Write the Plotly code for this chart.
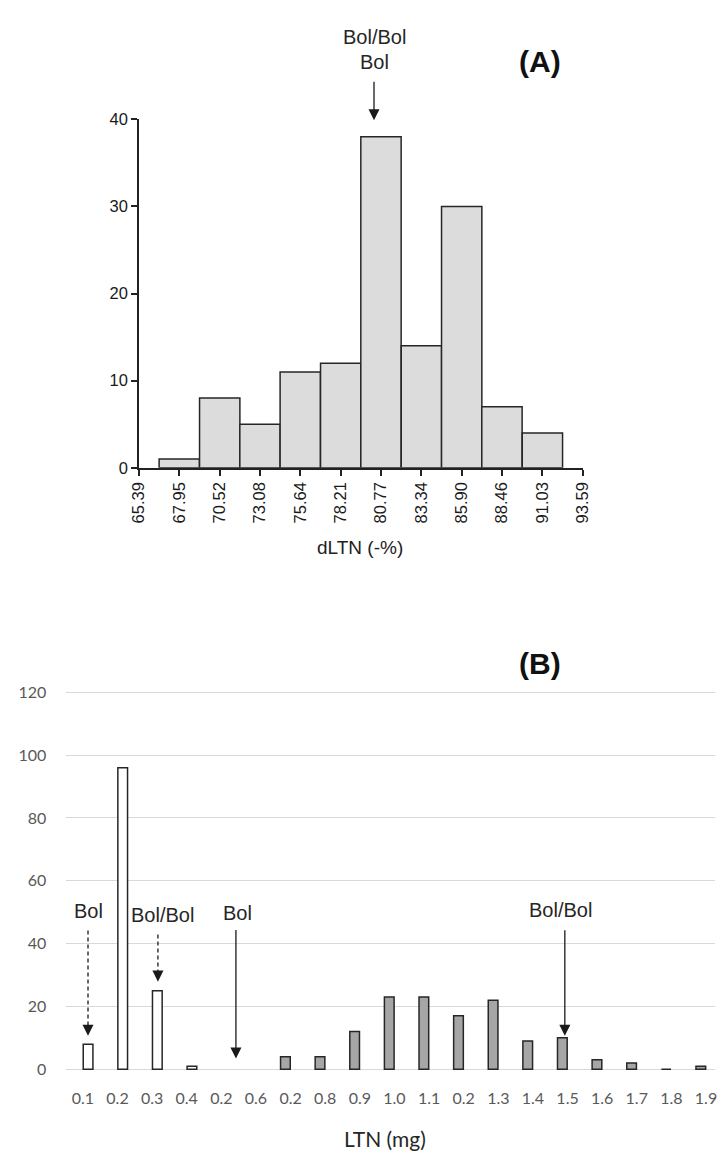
import plotly.graph_objects as go

W, H = 723, 1159

# ---------------- Panel A data ----------------
a_tick_values = [65.39, 67.95, 70.52, 73.08, 75.64, 78.21, 80.77, 83.34, 85.90, 88.46, 91.03, 93.59]
a_tick_labels = ["65.39", "67.95", "70.52", "73.08", "75.64", "78.21", "80.77", "83.34", "85.90", "88.46", "91.03", "93.59"]
a_bin_centers = [67.95, 70.52, 73.08, 75.64, 78.21, 80.77, 83.34, 85.90, 88.46, 91.03]
a_counts = [1, 8, 5, 11, 12, 38, 14, 30, 7, 4]
a_yticks = [0, 10, 20, 30, 40]

# ---------------- Panel B data ----------------
b_labels = ["0.1", "0.2", "0.3", "0.4", "0.2", "0.6", "0.2", "0.8", "0.9", "1.0",
            "1.1", "0.2", "1.3", "1.4", "1.5", "1.6", "1.7", "1.8", "1.9"]
b_white = [8, 96, 25, 1, None, None, None, None, None, None,
           None, None, None, None, None, None, None, None, None]
b_gray = [None, None, None, None, None, None, 4, 4, 12, 23,
          23, 17, 22, 9, 10, 3, 2, 0, 1]
b_yticks = [0, 20, 40, 60, 80, 100, 120]


def px(xp):
    return xp / W


def py(yp):
    return 1 - yp / H


a_bin_width = (a_tick_values[-1] - a_tick_values[0]) / (len(a_tick_values) - 1)
b_pos = list(range(len(b_labels)))

# panel B vertical scale: 0 at 1077 px, 120 at 694 px; pad range so edge gridlines show
b_unit = (1077 - 694) / (b_yticks[-1] - b_yticks[0])
b_pad = 0.6

fig = go.Figure()

# Panel A histogram
fig.add_trace(go.Bar(
    x=a_bin_centers, y=a_counts, width=a_bin_width,
    marker=dict(color="#dcdcdc", line=dict(color="#262626", width=1.5)),
    xaxis="x2", yaxis="y2", hoverinfo="skip",
))

# Panel B bars (two series like a clustered column chart)
fig.add_trace(go.Bar(
    x=b_pos, y=b_gray, width=0.28, offset=-0.29,
    marker=dict(color="#a6a6a6", line=dict(color="#262626", width=1.5)),
    xaxis="x", yaxis="y", hoverinfo="skip",
))
fig.add_trace(go.Bar(
    x=b_pos, y=b_white, width=0.28, offset=0.01,
    marker=dict(color="#ffffff", line=dict(color="#262626", width=1.5)),
    xaxis="x", yaxis="y", hoverinfo="skip",
))

lato_gray = dict(family="Lato, Calibri, sans-serif", size=16, color="#595959")
arial_tick = dict(family="Liberation Sans, Arial, sans-serif", size=16.5, color="#1a1a1a")

fig.update_layout(
    width=W, height=H,
    margin=dict(l=0, r=0, t=0, b=0),
    paper_bgcolor="white", plot_bgcolor="white",
    showlegend=False, barmode="overlay",
    # Panel B axes
    xaxis=dict(
        domain=[px(57), 1.0], range=[-0.5, 18.26], anchor="y",
        tickmode="array", tickvals=b_pos, ticktext=b_labels,
        showgrid=False, showline=False, zeroline=False, ticks="",
        tickfont=lato_gray, ticklabelstandoff=16,
    ),
    yaxis=dict(
        domain=[py(1077 + b_pad * b_unit), py(694 - b_pad * b_unit)],
        range=[b_yticks[0] - b_pad, b_yticks[-1] + b_pad], anchor="x",
        tickmode="array", tickvals=b_yticks,
        showgrid=True, gridcolor="#d9d9d9", gridwidth=1.4,
        showline=False, zeroline=False,
        ticks="outside", ticklen=15, tickcolor="rgba(0,0,0,0)",
        tickfont=lato_gray,
    ),
    # Panel A axes
    xaxis2=dict(
        domain=[px(132.3), px(587.3)], range=[a_tick_values[0], a_tick_values[-1]], anchor="y2",
        tickmode="array", tickvals=a_tick_values, ticktext=a_tick_labels, tickangle=-90,
        ticks="outside", ticklen=6, tickwidth=1.5, tickcolor="#222222",
        showline=True, linecolor="#222222", linewidth=1.5,
        showgrid=False, zeroline=False, tickfont=arial_tick,
    ),
    yaxis2=dict(
        domain=[py(466), py(112)], range=[0, 40], anchor="x2",
        tickmode="array", tickvals=a_yticks,
        ticks="outside", ticklen=6, tickwidth=1.5, tickcolor="#222222",
        showline=True, linecolor="#222222", linewidth=1.5,
        showgrid=False, zeroline=False, tickfont=arial_tick,
    ),
)

txt = dict(family="Liberation Sans, Arial, sans-serif", size=20, color="#262626")
bold = dict(family="Liberation Sans, Arial, sans-serif", size=30, color="#111111")
ann = []


def label(x, y, text, font=txt):
    ann.append(dict(x=px(x), y=py(y), xref="paper", yref="paper", text=text,
                    showarrow=False, font=font, xanchor="center", yanchor="middle"))


def arrow(x, y_tail, y_tip):
    ann.append(dict(x=px(x), y=py(y_tip), xref="paper", yref="paper",
                    ax=0, ay=-(y_tip - y_tail),
                    text="", showarrow=True, arrowhead=2, arrowsize=1.7,
                    arrowwidth=1.3, arrowcolor="#1a1a1a", standoff=0, startstandoff=0))


shapes = []


def dashed_arrow(x, y_tail, y_tip):
    head = 11
    shapes.append(dict(type="line", xref="paper", yref="paper",
                       x0=px(x), x1=px(x), y0=py(y_tail), y1=py(y_tip - head + 2),
                       line=dict(color="#1a1a1a", width=1.3, dash="4px,3px")))
    ann.append(dict(x=px(x), y=py(y_tip), xref="paper", yref="paper",
                    ax=0, ay=-head, text="", showarrow=True, arrowhead=2, arrowsize=1.7,
                    arrowwidth=1.3, arrowcolor="#1a1a1a", standoff=0, startstandoff=0))


# Panel A labels
label(544, 53, "<b>(A)</b>", bold)
label(374, 28, "Bol/Bol")
label(374, 54, "Bol")
arrow(373.3, 73, 113)
label(359, 547, "dLTN (-%)", dict(family="Liberation Sans, Arial, sans-serif", size=19, color="#222222"))

# Panel B labels
label(544, 665, "<b>(B)</b>", bold)
label(80.5, 916, "Bol")
label(156.7, 920, "Bol/Bol")
label(233.3, 918, "Bol")
label(565, 915, "Bol/Bol")
dashed_arrow(80, 936, 1043)
dashed_arrow(151.7, 940, 988)
arrow(231.7, 936, 1066)
arrow(569, 936, 1043)
label(385, 1147, "LTN (mg)", dict(family="Lato, Calibri, sans-serif", size=21, color="#262626"))

fig.update_layout(annotations=ann, shapes=shapes)

fig.write_html("out.html", config={"displayModeBar": False},
               post_script="document.body.style.margin='0';document.body.style.overflow='hidden';")
